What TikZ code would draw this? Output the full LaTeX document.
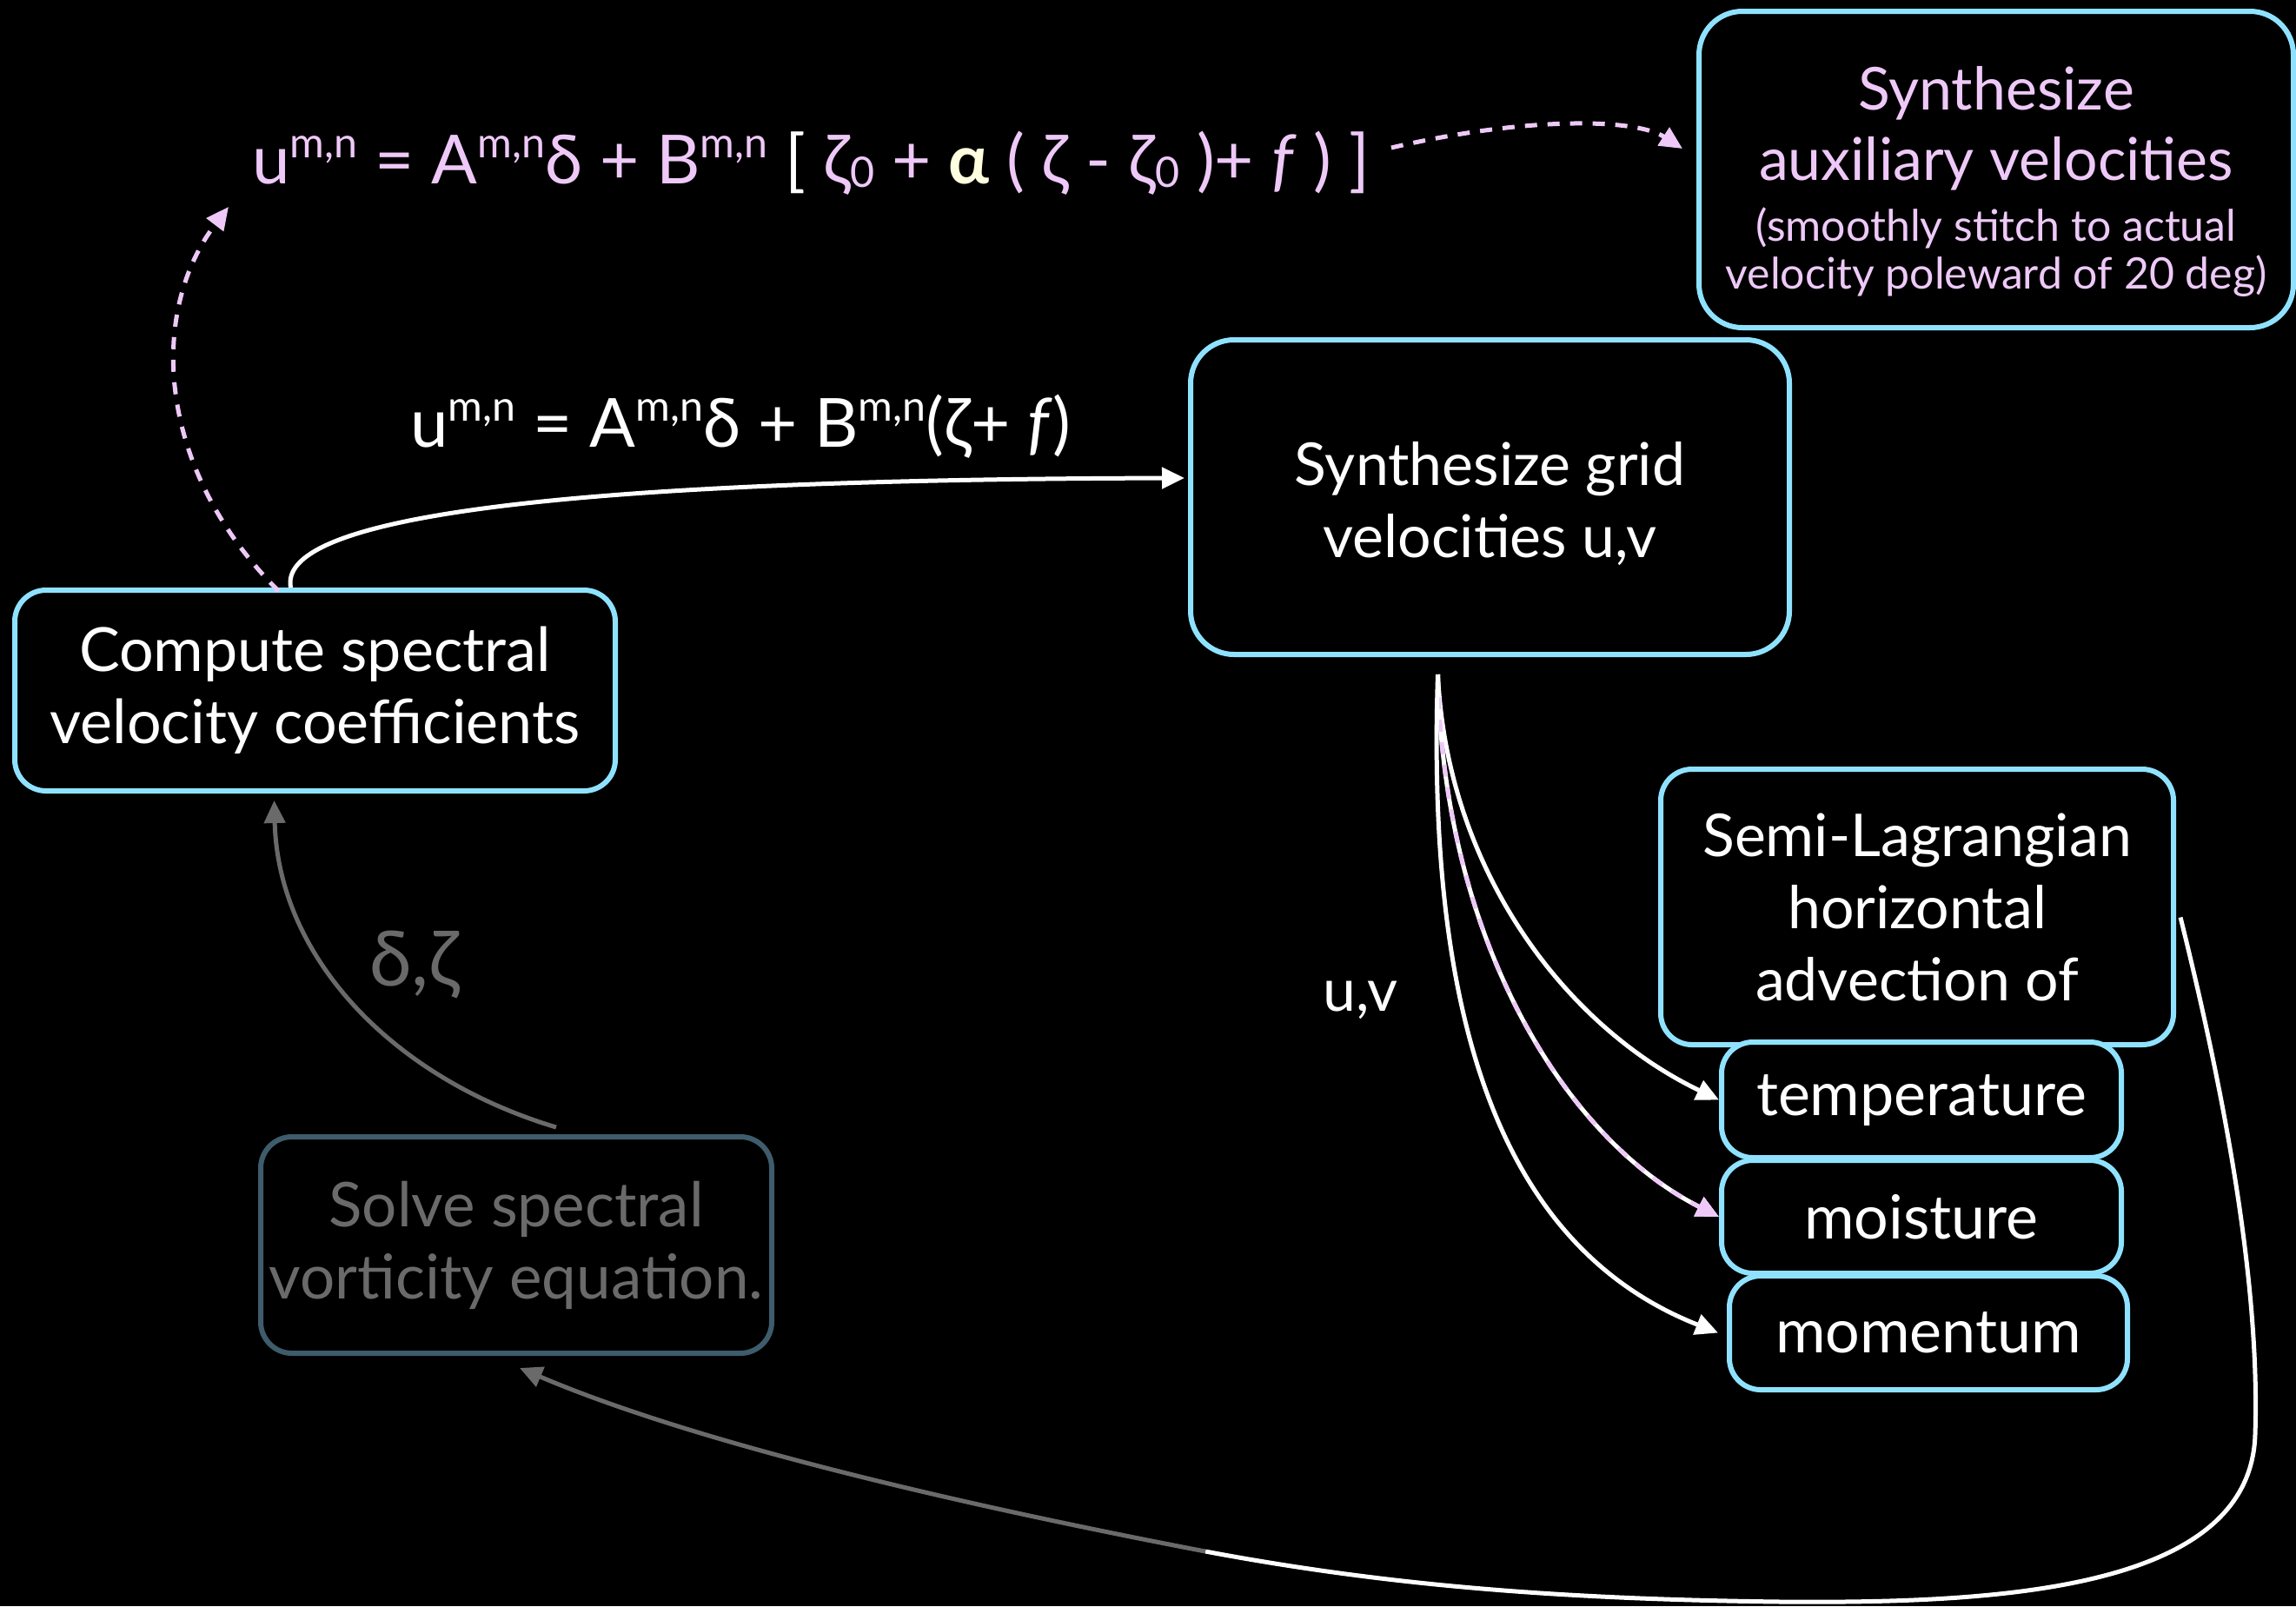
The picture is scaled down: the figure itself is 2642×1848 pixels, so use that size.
\documentclass[tikz,border=0pt]{standalone}
\usepackage{fontspec}
\setmainfont{Lato}
\usetikzlibrary{arrows.meta,calc}
\definecolor{boxcyan}{HTML}{8FE2FF}
\definecolor{pinkx}{HTML}{EEC9F8}
\definecolor{grayt}{HTML}{6A6A6A}
\definecolor{slate}{HTML}{3E5C6B}
\definecolor{alphay}{HTML}{FFFFE0}
\newcommand\mnsup[1]{\raisebox{0.38em}{\scalebox{0.62}{#1}}}
\newcommand\zsub[1]{\raisebox{-0.06em}{\scalebox{0.62}{#1}}}
\begin{document}
\begin{tikzpicture}[x=0.5pt,y=-0.5pt,
  box/.style={draw=boxcyan,line width=3pt,fill=black,rounded corners=18pt,align=center,
    text=white,inner sep=0pt,font=\fontsize{35}{41.5}\selectfont},
  wire/.style={draw=white,line width=2.5pt,-{Triangle[length=13pt,width=12pt]}},
  grayw/.style={draw=grayt,line width=2.5pt,-{Triangle[length=13pt,width=12pt]}},
  pinkdash/.style={draw=pinkx,line width=2.5pt,dash pattern=on 7pt off 6pt,
    -{Triangle[length=13pt,width=12pt,fill=pinkx]}},
  eq/.style={inner sep=0pt,font=\fontsize{39}{46}\selectfont}]
\fill[black] (0,0) rectangle (2642,1848);

% boxes
\node[box,rounded corners=25pt,minimum width=342pt,minimum height=182pt,text=pinkx,
      font=\fontsize{34}{41.5}\selectfont] (aux) at (2297,195)
  {\rule{0pt}{39pt}Synthesize\\[-1pt]
   auxiliary velocities\\[-6.5pt]
   {\fontsize{25}{28}\selectfont (smoothly stitch to actual}\\[-13.7pt]
   {\fontsize{25}{28}\selectfont velocity poleward of 20 deg)}};
\node[box,rounded corners=25pt,minimum width=344.5pt,minimum height=181pt,
      font=\fontsize{34}{41.5}\selectfont] (grid) at (1714.5,572)
  {\rule{0pt}{33pt}Synthesize grid\\velocities u,v};
\node[box,minimum width=345.5pt,minimum height=115.5pt] (compute) at (362.5,794.5)
  {Compute spectral\\velocity coefficients};
\node[box,draw=slate,text=grayt,minimum width=294pt,minimum height=124.5pt,
      font=\fontsize{35.5}{41.5}\selectfont] (solve) at (594,1432.5)
  {Solve spectral\\vorticity equation.};
\node[box,minimum width=295pt,minimum height=158.5pt,font=\fontsize{34}{41.5}\selectfont] (semi) at (2206,1043.5)
  {Semi-Lagrangian\\horizontal\\advection of};
\node[box,minimum width=230pt,minimum height=66.5pt] (temp) at (2211,1265.5) {temperature};
\node[box,minimum width=230pt,minimum height=65pt] (moist) at (2211,1400) {moisture};
\node[box,minimum width=229pt,minimum height=65.5pt] (mom) at (2219,1533.5) {momentum};

% formulas and labels
\node[eq,anchor=base west,text=pinkx] (f1) at (290,211)
  {u\mnsup{m,n} = A\mnsup{m,n}δ + B\mnsup{m,n} {\color{white}[} ζ\zsub{0} + {\color{alphay}\bfseries α} ( ζ - ζ\zsub{0} )+ \textit{f} ) ]};
\node[eq,anchor=base west,text=white] (f2) at (472,514)
  {u\mnsup{m,n} = A\mnsup{m,n}δ + B\mnsup{m,n}(ζ+ \textit{f})};
\node[eq,anchor=base west,text=white,font=\fontsize{34}{41}\selectfont] (uv) at (1522,1163) {u,v};
\node[eq,anchor=base west,text=grayt,font=\fontsize{44}{50}\selectfont] (dz) at (425,1134) {δ,ζ};

% connectors
\coordinate (gs) at ($(grid.south)+(-60,20)$);
\coordinate (mid) at (1387,1785);
\draw[wire] ($(compute.north)+(-28,0)$) .. controls (320,600) and (600,552) .. ($(grid.west)+(-4,-22)$);
\draw[pinkdash] ($(compute.north)+(-42,4)$) .. controls (180,540) and (170,360) .. ($(f1.base west)+(-27,27)$);
\draw[pinkdash] ($(f1.base east)+(24,-41)$) .. controls (1750,135) and (1880,135) .. ($(aux.west)+(-16,-24)$);
\draw[wire] (gs) .. controls (1665,1000) and (1800,1180) .. (temp.west);
\draw[wire] (gs) .. controls (1660,1080) and (1800,1310) .. (moist.west);
\draw[pinkdash] (gs) .. controls (1660,1080) and (1800,1310) .. (moist.west);
\draw[wire] (gs) .. controls (1640,1200) and (1740,1440) .. ($(mom.west)+(-10,0)$);
\draw[draw=white,line width=2.5pt] ($(semi.east)+(5,12)$) .. controls (2570,1300) and (2600,1500) .. (2595,1650)
  .. controls (2590,1830) and (2300,1845) .. (2050,1843)
  .. controls (1800,1840) and (1600,1825) .. (mid);
\draw[grayw] (mid) .. controls (1100,1730) and (800,1660) .. ($(solve.south)+(4,14)$);
\draw[grayw] ($(solve.north)+(46,-8)$) .. controls (450,1240) and (320,1100) .. ($(compute.south)+(-47,8)$);
\end{tikzpicture}
\end{document}
